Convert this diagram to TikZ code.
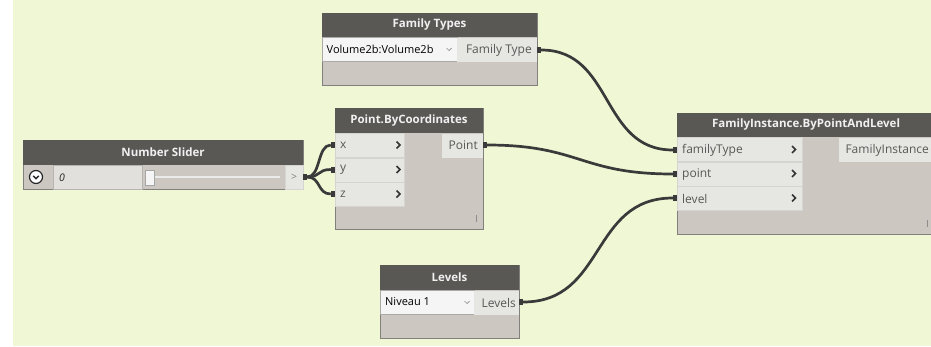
\documentclass[tikz,border=0pt]{standalone}
\usepackage{fontspec}
\setmainfont{Open Sans}
\definecolor{bggreen}{RGB}{240,247,212}
\definecolor{hdr}{RGB}{89,88,85}
\definecolor{hdrtxt}{RGB}{240,240,240}
\definecolor{body}{RGB}{204,200,193}
\definecolor{rowbg}{RGB}{230,230,226}
\definecolor{rowline}{RGB}{214,212,208}
\definecolor{ddbg}{RGB}{245,245,245}
\definecolor{nodeborder}{RGB}{130,128,124}
\definecolor{wirec}{RGB}{58,58,58}
\definecolor{lbl}{RGB}{88,88,88}
\definecolor{valfield}{RGB}{226,224,220}
\tikzset{
  box/.style={draw=nodeborder, line width=0.8pt, fill=body, anchor=north west, inner sep=0pt, minimum width=#1},
  hdrbox/.style={fill=hdr, anchor=north west, inner sep=0pt, minimum width=#1, minimum height=24pt},
  hdrtext/.style={text=hdrtxt, font=\fontsize{11.5}{13}\selectfont\bfseries, inner sep=0pt},
  rowbox/.style={fill=rowbg, draw=rowline, line width=0.6pt, anchor=north west, inner sep=0pt, minimum width=#1, minimum height=24pt},
  ddbox/.style={fill=ddbg, draw=rowline!80!black, line width=0.6pt, anchor=north west, inner sep=0pt, minimum width=#1, minimum height=24pt},
  intext/.style={text=lbl, font=\fontsize{12}{14}\selectfont, inner sep=0pt, anchor=west},
  outtext/.style={text=lbl, font=\fontsize{12}{14}\selectfont, inner sep=0pt, anchor=east},
  ddtext/.style={text=black, font=\fontsize{11}{13}\selectfont, inner sep=0pt, anchor=west},
  chev/.style={draw=black!80, line width=1.5pt, line cap=butt, line join=miter},
  ddarrow/.style={draw=black!45, line width=0.7pt},
  portmark/.style={fill=wirec, inner sep=0pt, minimum width=4pt, minimum height=6pt},
  wire/.style={draw=wirec, line width=2.7pt},
  ibar/.style={draw=black!45, line width=0.8pt},
}
\begin{document}
\begin{tikzpicture}[x=1pt,y=-1pt]
\useasboundingbox (0,0) rectangle (931,346);
\fill[white] (0,0) rectangle (931,346);
\fill[bggreen] (13,0) rectangle (931,346);

% ---------------- Family Types ----------------
\node[box=215pt, minimum height=72pt] (ftBody) at (322,13) {};
\node[hdrbox=215pt] (ftHdr) at (322,13) {};
\node[hdrtext] (ftTitle) at (429.5,25) {Family Types};
\node[ddbox=135pt] (ftDD) at (322,37) {};
\node[fill=rowbg, anchor=north west, inner sep=0pt, minimum width=80pt, minimum height=24pt] (ftOutBox) at (457,37.5) {};
\node[ddtext] (ftVal) at (326.5,49.5) {Volume2b:Volume2b};
\draw[ddarrow] (446.5,48) -- (449,50.5) -- (451.5,48);
\node[outtext] (ftOutLbl) at (532,50.5) {Family Type};

% ---------------- Number Slider ----------------
\node[box=280pt, minimum height=49pt] (nsBody) at (23,140) {};
\node[hdrbox=280pt, minimum height=25pt] (nsHdr) at (23,140) {};
\node[hdrtext] (nsTitle) at (163,152.5) {Number Slider};
\node[fill=valfield, draw=rowline!85!black, line width=0.5pt, anchor=north west, inner sep=0pt, minimum width=89pt, minimum height=24pt] (nsVal) at (53,165) {};
\node[fill=rowbg, draw=rowline, line width=0.5pt, anchor=north west, inner sep=0pt, minimum width=18pt, minimum height=24pt] (nsArrBox) at (285,165) {};
\node[circle, draw=black!85, line width=1.2pt, fill=white, minimum size=13pt, inner sep=0pt] (nsBtn) at (36,177) {};
\draw[black!85, line width=1.3pt] (33.2,175.8) -- (36,178.6) -- (38.8,175.8);
\node[text=black!85, font=\fontsize{10.5}{12}\selectfont\itshape, inner sep=0pt, anchor=west] (nsZero) at (59,177.5) {0};
\draw[white!92!black, line width=2pt] (154,177) -- (280,177);
\node[fill=white!96!black, draw=black!35, line width=0.6pt, anchor=north west, inner sep=0pt, minimum width=9pt, minimum height=15pt] (nsThumb) at (145,170) {};
\node[text=black!50, font=\fontsize{10.5}{12}\selectfont, inner sep=0pt] (nsArr) at (294,177.5) {>};

% ---------------- Point.ByCoordinates ----------------
\node[box=148pt, minimum height=121pt] (pbBody) at (335,108) {};
\node[hdrbox=148pt, minimum height=25pt] (pbHdr) at (335,108) {};
\node[hdrtext] (pbTitle) at (409,120.5) {Point.ByCoordinates};
\node[rowbox=69pt] (pbX) at (335,133) {};
\node[rowbox=69pt] (pbY) at (335,157.5) {};
\node[rowbox=69pt] (pbZ) at (335,182) {};
\node[fill=rowbg, anchor=north west, inner sep=0pt, minimum width=41pt, minimum height=24pt] (pbOutBox) at (442,133.5) {};
\node[intext] (pbXl) at (340,145.5) {x};
\node[intext] (pbYl) at (340,169.5) {y};
\node[intext] (pbZl) at (340,194) {z};
\draw[chev] (396.5,141.5) -- (400,145) -- (396.5,148.5);
\draw[chev] (396.5,166) -- (400,169.5) -- (396.5,173);
\draw[chev] (396.5,190.5) -- (400,194) -- (396.5,197.5);
\node[outtext] (pbOutLbl) at (478,145.5) {Point};
\draw[ibar] (476,215) -- (476,222);

% ---------------- FamilyInstance.ByPointAndLevel ----------------
\node[box=256pt, minimum height=121pt] (fiBody) at (677,113) {};
\node[hdrbox=256pt] (fiHdr) at (677,113) {};
\node[hdrtext] (fiTitle) at (806,125) {FamilyInstance.ByPointAndLevel};
\node[rowbox=125pt] (fiT) at (677,137) {};
\node[rowbox=125pt] (fiP) at (677,161.5) {};
\node[rowbox=125pt] (fiL) at (677,186) {};
\node[fill=rowbg, anchor=north west, inner sep=0pt, minimum width=94pt, minimum height=24pt] (fiOutBox) at (839,137.5) {};
\node[intext] (fiTl) at (682,150.5) {familyType};
\node[intext] (fiPl) at (682,174.5) {point};
\node[intext] (fiLl) at (682,198.5) {level};
\draw[chev] (792,146) -- (795.5,149.5) -- (792,153);
\draw[chev] (792,170) -- (795.5,173.5) -- (792,177);
\draw[chev] (792,194.5) -- (795.5,198) -- (792,201.5);
\node[outtext] (fiOutLbl) at (929,150.5) {FamilyInstance};
\draw[ibar] (927,220) -- (927,227);

% ---------------- Levels ----------------
\node[box=139pt, minimum height=73pt] (lvBody) at (380,265) {};
\node[hdrbox=139pt, minimum height=25pt] (lvHdr) at (380,265) {};
\node[hdrtext] (lvTitle) at (449.5,277.5) {Levels};
\node[ddbox=94pt] (lvDD) at (380,290) {};
\node[fill=rowbg, anchor=north west, inner sep=0pt, minimum width=45pt, minimum height=24pt] (lvOutBox) at (474,290.5) {};
\node[ddtext] (lvVal) at (385,302) {Niveau 1};
\draw[ddarrow] (464.5,301) -- (467,303.5) -- (469.5,301);
\node[outtext] (lvOutLbl) at (516,303) {Levels};

% ---------------- ports ----------------
\node[portmark] (ftOut) at (539,50) {};
\node[portmark] (pbOut) at (485,145) {};
\node[portmark] (lvOut) at (521,302) {};
\node[portmark] (nsOut) at (305,177) {};
\node[portmark] (pbInX) at (333,145) {};
\node[portmark] (pbInY) at (333,169.5) {};
\node[portmark] (pbInZ) at (333,194) {};
\node[portmark] (fiInT) at (675,150) {};
\node[portmark] (fiInP) at (675,174) {};
\node[portmark] (fiInL) at (675,198) {};

% ---------------- wires ----------------
\draw[wire] (ftOut) .. controls +(75,0) and +(-75,0) .. (fiInT);
\draw[wire] (pbOut) .. controls +(95,0) and +(-95,0) .. (fiInP);
\draw[wire] (lvOut) .. controls +(85,0) and +(-85,0) .. (fiInL);
\draw[wire] (nsOut) .. controls +(16,0) and +(-16,0) .. (pbInX);
\draw[wire] (nsOut) .. controls +(16,0) and +(-16,0) .. (pbInY);
\draw[wire] (nsOut) .. controls +(16,0) and +(-16,0) .. (pbInZ);
\end{tikzpicture}
\end{document}
